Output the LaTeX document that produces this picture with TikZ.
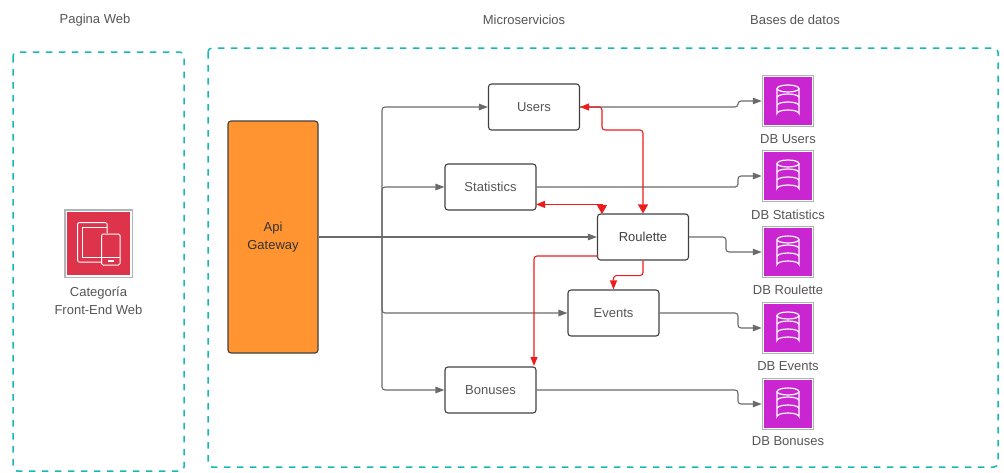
\documentclass[tikz,border=0pt]{standalone}
\usepackage{fontspec}
\setmainfont{Liberation Sans}
\usetikzlibrary{arrows.meta}
\definecolor{dashteal}{HTML}{14B8B5}
\definecolor{gwfill}{HTML}{FF9430}
\definecolor{dbfill}{HTML}{C925D1}
\definecolor{webfill}{HTML}{DD344C}
\definecolor{iconedge}{HTML}{AEB6BA}
\definecolor{linegray}{HTML}{6A6A6A}
\definecolor{textgray}{HTML}{555555}
\definecolor{redline}{HTML}{EE1C1C}
\begin{document}
\begin{tikzpicture}
[x=1pt,y=-1pt,font=\fontsize{13}{18}\selectfont,
  groupdecorate/.style={draw=dashteal,line width=1.5pt,rounded corners=4pt},%
  boxdecorate/.style={shape=rectangle,draw=black!75,line width=1.1pt,rounded corners=3pt,inner sep=0pt,
    minimum width=91pt,minimum height=46pt,text=textgray,align=center},%
  icondecorate/.style={shape=rectangle,draw=iconedge,line width=1.5pt,inner sep=0pt,
    minimum width=51pt,minimum height=51pt},%
  glyphdecorate/.style={draw=white,line width=1pt,rounded corners=1.5pt},%
  labeldecorate/.style={text=textgray,align=center,inner sep=0pt},%
  linedecorate/.style={draw=linegray,line width=1.1pt,rounded corners=3pt,-{Triangle[length=9pt,width=6.5pt]}},%
  reddecorate/.style={draw=redline,line width=1.1pt,rounded corners=3pt,-{Triangle[length=9pt,width=7pt]}},%
  reddouble/.style={reddecorate,{Triangle[length=9pt,width=7pt]}-{Triangle[length=9pt,width=10pt]}}]
\useasboundingbox (0,0) rectangle (1004,472);
%% groups and titles
\draw[groupdecorate,dash pattern=on 6.5pt off 6.5pt] (13,52) rectangle (184,471);
\draw[groupdecorate,dash pattern=on 6.5pt off 6.5pt] (208,48) rectangle (998,467);
\node (titleweb) at (95,20) [labeldecorate] {Pagina Web};
\node (titlemicro) at (524,19.5) [labeldecorate] {Microservicios};
\node (titledb) at (795,19.5) [labeldecorate] {Bases de datos};
%% web icon
\node (web) at (98.5,243.5) [icondecorate,minimum width=67.5pt,minimum height=67.5pt,fill=white] {};
\node (webinner) at (web) [shape=rectangle,fill=webfill,inner sep=0pt,minimum width=63pt,minimum height=63pt] {};
\draw[glyphdecorate] (107,233) -- (107,222.5) -- (77.5,222.5) -- (77.5,262) -- (101,262);
\draw[draw=white,line width=.8pt] (107,227) -- (82,227) -- (82,257) -- (101,257);
\draw[glyphdecorate,fill=webfill] (101.5,234) rectangle (120,265);
\draw[draw=white,line width=.8pt] (101.5,257) -- (120,257);
\draw[draw=white,line width=1.2pt] (108,261) -- (114,261);
\node (weblabel) at (98.5,301) [labeldecorate] {Categoría\\Front-End Web};
%% gateway and services
\node (gateway) at (273,237) [boxdecorate,fill=gwfill,text=black!80,minimum width=90pt,minimum height=232pt] {Api\\Gateway};
\foreach \nodename/\x/\y/\name/\shade in {users/534/107/Users/textgray, statistics/490.5/187/Statistics/textgray,
  roulette/643/237/Roulette/black!75, events/613.5/313/Events/textgray, bonuses/490.5/390/Bonuses/textgray}
{
  \node (\nodename) at (\x,\y) [boxdecorate,text=\shade] {\name};
}
%% databases
\foreach \nodename/\y/\name/\ly in {dbusers/101/DB Users/139, dbstatistics/176/DB Statistics/215,
  dbroulette/252/DB Roulette/290, dbevents/328/DB Events/366, dbbonuses/404/DB Bonuses/441}
{
  \node (\nodename) at (788,\y) [icondecorate,fill=white] {};
  \node (\nodename inner) at (\nodename) [shape=rectangle,fill=dbfill,inner sep=0pt,minimum width=48pt,minimum height=48pt] {};
  \node (\nodename label) at (788,\ly) [labeldecorate] {\name};
  \begin{scope}[shift={(\nodename.center)}]
    \draw[draw=white,line width=1.2pt] (0,-12.5) ellipse [x radius=11pt,y radius=3.5pt];
    \draw[draw=white,line width=1.2pt] (-11,-12.5) -- (-11,12.5) arc [start angle=180,end angle=360,x radius=11pt,y radius=-3.5pt] -- (11,-12.5);
    \draw[draw=white,line width=1.2pt] (-11,-3.5) arc [start angle=180,end angle=360,x radius=11pt,y radius=-3.5pt];
    \draw[draw=white,line width=1.2pt] (-11,4.5) arc [start angle=180,end angle=360,x radius=11pt,y radius=-3.5pt];
  \end{scope}
}
%% bends
\coordinate (branch) at (382,237);
\coordinate (bendnear) at (726,0);
\coordinate (bendfar) at (738,0);
\coordinate (statsred) at (536,204.4);
\coordinate (roulettestat) at (602,214);
\coordinate (roulettewest) at (598,256);
\coordinate (bonusestop) at (534,366);
\coordinate (usersturn) at (602,130);
%% gray edges
\draw[linegray,line width=1.1pt] (gateway.east |- branch) -- (branch);
\foreach \endnode in {users, statistics, events, bonuses}
{
  \draw[linedecorate] (branch) |- (\endnode.west);
}
\draw[linedecorate] (branch) -- (roulette.west);
\foreach \startnode/\endnode/\bend in {users/dbusers/bendfar, statistics/dbstatistics/bendfar,
  roulette/dbroulette/bendnear, events/dbevents/bendfar, bonuses/dbbonuses/bendfar}
{
  \draw[linedecorate] (\startnode.east) -- (\startnode.east -| \bend) |- (\endnode.west);
}
%% red edges
\draw[reddouble] (users.east) -| (usersturn) -| (roulette.north);
\draw[reddouble,rounded corners=0pt] (statsred) -| (roulettestat);
\draw[reddecorate] (roulettewest) -| (bonusestop);
\draw[reddecorate] (roulette.south) |- +(-15,15) -| (events.north);
\end{tikzpicture}
\end{document}
